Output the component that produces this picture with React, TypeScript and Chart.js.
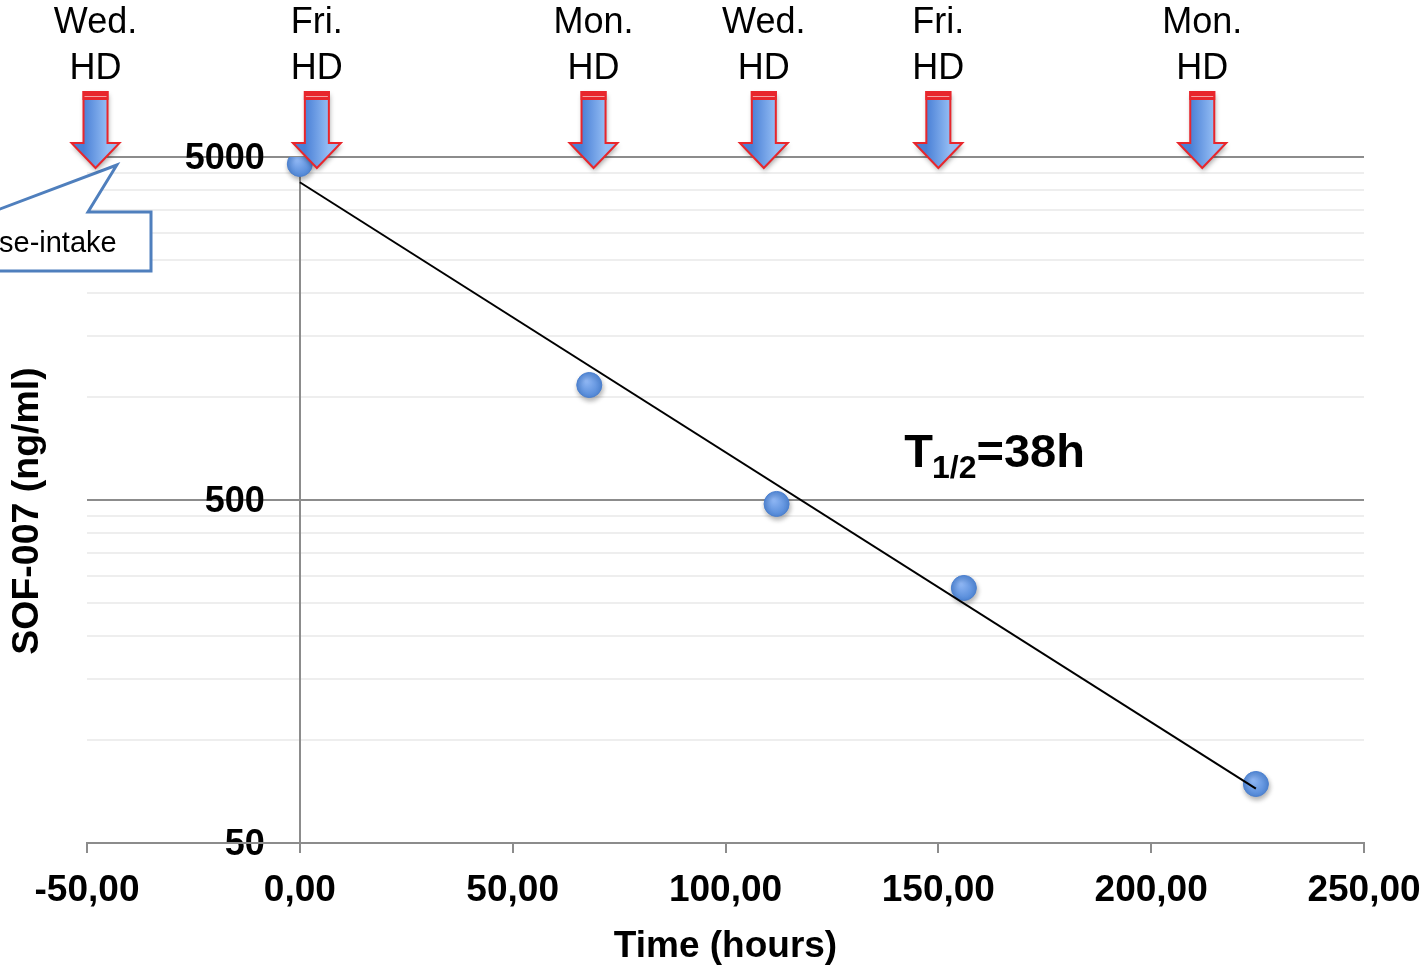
import React, { useEffect, useRef } from "react";
import { Chart, registerables, LogarithmicScale } from "chart.js";

// ---- data ----
const timeHours = [0, 68, 112, 156, 224.6];
const concentrationNgMl = [4771, 1082, 487, 277, 74.3];

const xTickValues = [-50, 0, 50, 100, 150, 200, 250];
const yMajorTicks = [50, 500, 5000];
const yMinorTicks = [100, 150, 200, 250, 300, 350, 400, 450, 1000, 1500, 2000, 2500, 3000, 3500, 4000, 4500];

const hdDays = ["Wed.", "Fri.", "Mon.", "Wed.", "Fri.", "Mon."];
const hdTimes = [-48, 4, 69, 109, 150, 212];

const calloutText = "se-intake";
const halfLifeMain = "T";
const halfLifeSub = "1/2";
const halfLifeTail = "=38h";
const halfLifeAnchor = { x: 142, y: 624 };

const FONT = '"Liberation Sans", Arial, Helvetica, sans-serif';
const Y_LABEL_GAP = 35;

// Log scale whose tick labels keep a gap from an axis line placed at x = 0
class AxisLogScale extends (LogarithmicScale as any) {
  _computeLabelItems(chartArea: any) {
    const items = super._computeLabelItems(chartArea);
    items.forEach((it: any) => {
      if (it.options && it.options.translation) {
        it.options.translation[0] -= Y_LABEL_GAP;
        it.options.translation[1] += 2;
      }
    });
    return items;
  }
}
(AxisLogScale as any).id = "axisLog";
(AxisLogScale as any).defaults = (LogarithmicScale as any).defaults;

Chart.register(...registerables, AxisLogScale as any);

// Excel-style exponential trendline: ln(y) = a + b x (least squares)
function expFit(xs: number[], ys: number[]) {
  const n = xs.length;
  const ly = ys.map((v) => Math.log(v));
  const mx = xs.reduce((s, v) => s + v, 0) / n;
  const my = ly.reduce((s, v) => s + v, 0) / n;
  let sxy = 0;
  let sxx = 0;
  for (let i = 0; i < n; i++) {
    sxy += (xs[i] - mx) * (ly[i] - my);
    sxx += (xs[i] - mx) * (xs[i] - mx);
  }
  const b = sxy / sxx;
  const a = my - b * mx;
  return (x: number) => Math.exp(a + b * x);
}

const fit = expFit(timeHours, concentrationNgMl);
const trendX = [Math.min(...timeHours), Math.max(...timeHours)];

const GRID_DARK = "#8c8c8c";
const GRID_LIGHT = "#eeeeee";

function drawArrow(ctx: CanvasRenderingContext2D, cx: number, top: number, headBase: number, tip: number) {
  const sw = 12;
  const hw = 24;
  ctx.save();
  ctx.beginPath();
  ctx.moveTo(cx - sw, top);
  ctx.lineTo(cx + sw, top);
  ctx.lineTo(cx + sw, headBase);
  ctx.lineTo(cx + hw, headBase);
  ctx.lineTo(cx, tip);
  ctx.lineTo(cx - hw, headBase);
  ctx.lineTo(cx - sw, headBase);
  ctx.closePath();
  const g = ctx.createLinearGradient(cx - sw, 0, cx + sw, 0);
  g.addColorStop(0, "#4a80d6");
  g.addColorStop(1, "#94bdf4");
  ctx.shadowColor = "rgba(0,0,0,0.35)";
  ctx.shadowBlur = 5;
  ctx.shadowOffsetX = 1;
  ctx.shadowOffsetY = 3;
  ctx.fillStyle = g;
  ctx.fill();
  ctx.shadowColor = "transparent";
  ctx.strokeStyle = "#e8262c";
  ctx.lineWidth = 2;
  ctx.lineJoin = "miter";
  ctx.stroke();
  ctx.fillStyle = "#e8262c";
  ctx.fillRect(cx - sw - 1, top - 1, 2 * sw + 2, 9);
  ctx.strokeStyle = "#f3a3a6";
  ctx.lineWidth = 1;
  ctx.beginPath();
  ctx.moveTo(cx - sw + 1, top + 4.5);
  ctx.lineTo(cx + sw - 1, top + 4.5);
  ctx.stroke();
  ctx.restore();
}

const titleShiftPlugin = {
  id: "yTitleShift",
  afterLayout(chart: any) {
    const s = chart.scales.yTitle;
    if (s) {
      s.top += 11;
      s.bottom += 11;
    }
  },
};

const annotationPlugin = {
  id: "hdAnnotations",
  afterDraw(chart: any) {
    const { ctx, chartArea } = chart;
    const xs = chart.scales.x;
    const ys = chart.scales.y;
    const top = chartArea.top;

    ctx.save();
    // callout box ("... dose-intake")
    const tipX = xs.getPixelForValue(-43);
    const tipY = top + 8;
    ctx.beginPath();
    ctx.moveTo(-200, top + 55);
    ctx.lineTo(-8, top + 55);
    ctx.lineTo(tipX, tipY);
    ctx.lineTo(88, top + 55);
    ctx.lineTo(151, top + 55);
    ctx.lineTo(151, top + 114);
    ctx.lineTo(-200, top + 114);
    ctx.closePath();
    ctx.fillStyle = "#ffffff";
    ctx.fill();
    ctx.strokeStyle = "#4f7fbd";
    ctx.lineWidth = 3;
    ctx.lineJoin = "miter";
    ctx.stroke();
    ctx.fillStyle = "#000";
    ctx.font = `29px ${FONT}`;
    ctx.textAlign = "left";
    ctx.textBaseline = "middle";
    ctx.fillText(calloutText, -1, top + 87);

    // HD arrows and labels
    hdTimes.forEach((t, i) => {
      const cx = xs.getPixelForValue(t);
      drawArrow(ctx, cx, top - 65, top - 14, top + 11);
      ctx.fillStyle = "#000";
      ctx.font = `36px ${FONT}`;
      ctx.textAlign = "center";
      ctx.textBaseline = "middle";
      ctx.fillText(hdDays[i], cx, top - 134);
      ctx.fillText("HD", cx, top - 88);
    });

    // half-life text
    const hx = xs.getPixelForValue(halfLifeAnchor.x);
    const hy = ys.getPixelForValue(halfLifeAnchor.y);
    ctx.textAlign = "left";
    ctx.textBaseline = "alphabetic";
    ctx.fillStyle = "#000";
    ctx.font = `bold 47px ${FONT}`;
    ctx.fillText(halfLifeMain, hx, hy);
    let w = ctx.measureText(halfLifeMain).width;
    ctx.font = `bold 32px ${FONT}`;
    ctx.fillText(halfLifeSub, hx + w - 1, hy + 11);
    w += ctx.measureText(halfLifeSub).width - 1;
    ctx.font = `bold 47px ${FONT}`;
    ctx.fillText(halfLifeTail, hx + w, hy);
    ctx.restore();
  },
};

const shadowPlugin = {
  id: "pointShadow",
  beforeDatasetDraw(chart: any, args: any) {
    if (args.index !== 1) return;
    const ctx = chart.ctx;
    ctx.save();
    ctx.shadowColor = "rgba(0,0,0,0.3)";
    ctx.shadowBlur = 5;
    ctx.shadowOffsetX = 1;
    ctx.shadowOffsetY = 3;
  },
  afterDatasetDraw(chart: any, args: any) {
    if (args.index !== 1) return;
    chart.ctx.restore();
  },
};

export default function App() {
  const canvasRef = useRef<HTMLCanvasElement | null>(null);

  useEffect(() => {
    document.body.style.margin = "0";
    const canvas = canvasRef.current;
    if (!canvas) return;

    const pointColor = (c: any) => {
      const chart = c.chart;
      const xs = chart.scales?.x;
      const ys = chart.scales?.y;
      if (!c.parsed || !xs || !ys) return "#5b8fdc";
      const px = xs.getPixelForValue(c.parsed.x);
      const py = ys.getPixelForValue(c.parsed.y);
      if (!isFinite(px) || !isFinite(py)) return "#5b8fdc";
      const g = chart.ctx.createRadialGradient(px - 3, py - 4, 1, px, py, 13);
      g.addColorStop(0, "#8db5f3");
      g.addColorStop(1, "#4f86d6");
      return g;
    };

    const chart = new Chart(canvas, {
      type: "scatter",
      data: {
        datasets: [
          {
            label: "Trend",
            data: trendX.map((x) => ({ x, y: fit(x) })),
            showLine: true,
            borderColor: "#000000",
            borderWidth: 2,
            pointRadius: 0,
            fill: false,
            order: 0,
            xAxisID: "x",
            yAxisID: "y",
          },
          {
            label: "SOF-007",
            data: timeHours.map((x, i) => ({ x, y: concentrationNgMl[i] })),
            backgroundColor: pointColor,
            borderColor: "#4a7fcf",
            borderWidth: 1,
            pointRadius: 12.5,
            order: 1,
            xAxisID: "x",
            yAxisID: "y",
          },
        ],
      },
      options: {
        responsive: false,
        animation: false,
        events: [],
        layout: { padding: { top: 157, right: 62, left: 0, bottom: 0 } },
        plugins: { legend: { display: false }, tooltip: { enabled: false } },
        scales: {
          y: {
            type: "axisLog",
            position: { x: 0 } as any,
            min: 50,
            max: 5000,
            afterBuildTicks: (s: any) => {
              s.ticks = [...yMajorTicks, ...yMinorTicks].sort((a, b) => a - b).map((v) => ({ value: v }));
            },
            ticks: {
              autoSkip: false,
              color: "#000",
              font: { family: FONT, size: 36, weight: "bold" },
              callback: (v: any) => (yMajorTicks.includes(Number(v)) ? String(v) : ""),
            },
            grid: {
              drawTicks: false,
              lineWidth: 2,
              color: (c: any) => (c.tick && yMajorTicks.includes(c.tick.value) ? GRID_DARK : GRID_LIGHT),
            },
            border: { display: true, color: GRID_DARK, width: 2 },
          },
          yTitle: {
            type: "linear",
            axis: "y",
            position: "left",
            display: true,
            grid: { display: false },
            border: { display: false },
            ticks: { display: false },
            afterFit: (s: any) => {
              s.width = 87;
            },
            title: {
              display: true,
              text: "SOF-007 (ng/ml)",
              color: "#000",
              font: { family: FONT, size: 37.5, weight: "bold" },
              padding: { top: 5, bottom: 0 },
            },
          },
          x: {
            type: "linear",
            position: "bottom",
            min: -50,
            max: 250,
            afterBuildTicks: (s: any) => {
              s.ticks = xTickValues.map((v) => ({ value: v }));
            },
            afterFit: (s: any) => {
              s.height = 123;
              s.paddingRight = 0;
              s.paddingLeft = 0;
            },
            ticks: {
              autoSkip: false,
              maxRotation: 0,
              padding: 16,
              color: "#000",
              font: { family: FONT, size: 37, weight: "bold" },
              callback: (v: any) => Number(v).toFixed(2).replace(".", ","),
            },
            grid: {
              drawOnChartArea: false,
              drawTicks: true,
              tickLength: 10,
              lineWidth: 2,
              color: GRID_DARK,
            },
            border: { display: true, color: GRID_DARK, width: 2 },
            title: {
              display: true,
              text: "Time (hours)",
              color: "#000",
              font: { family: FONT, size: 37, weight: "bold" },
              padding: { top: 0, bottom: -3 },
            },
          },
        },
      } as any,
      plugins: [titleShiftPlugin, shadowPlugin, annotationPlugin],
    });

    return () => chart.destroy();
  }, []);

  return (
    <div style={{ width: 1426, height: 966, background: "#fff" }}>
      <canvas ref={canvasRef} width={1426} height={966} style={{ display: "block" }} />
    </div>
  );
}
